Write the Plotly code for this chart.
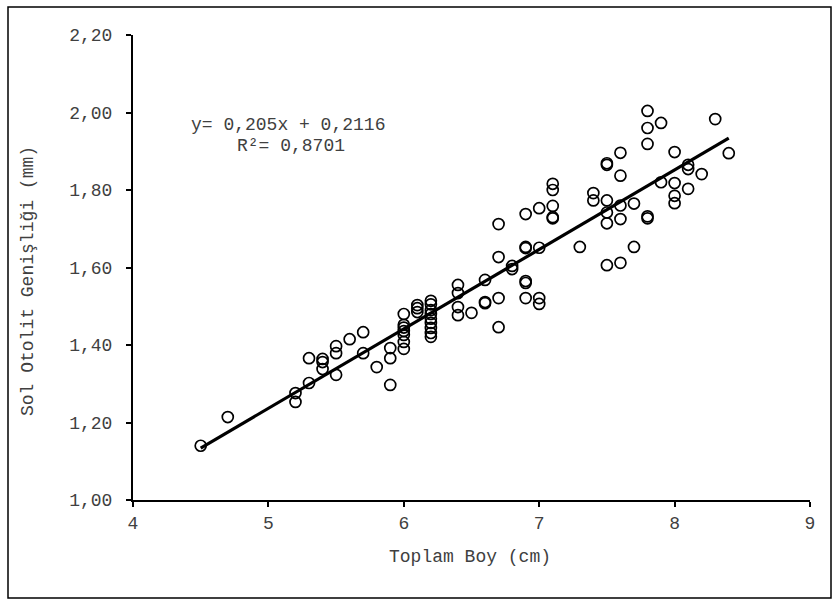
import plotly.graph_objects as go

# Total length (cm) and left otolith width (mm) per fish
toplam_boy = [
    4.5, 4.7,
    5.2, 5.2, 5.3, 5.3, 5.4, 5.4, 5.4, 5.5, 5.5, 5.5, 5.6, 5.7, 5.7, 5.8,
    5.9, 5.9, 5.9,
    6.0, 6.0, 6.0, 6.0, 6.0, 6.0, 6.0,
    6.1, 6.1, 6.1,
    6.2, 6.2, 6.2, 6.2, 6.2, 6.2, 6.2, 6.2, 6.2,
    6.4, 6.4, 6.4, 6.4, 6.5, 6.6, 6.6, 6.6,
    6.7, 6.7, 6.7, 6.7, 6.8, 6.8,
    6.9, 6.9, 6.9, 6.9, 6.9, 6.9,
    7.0, 7.0, 7.0, 7.0,
    7.1, 7.1, 7.1, 7.1, 7.1,
    7.3, 7.4, 7.4,
    7.5, 7.5, 7.5, 7.5, 7.5, 7.5,
    7.6, 7.6, 7.6, 7.6, 7.6,
    7.7, 7.7,
    7.8, 7.8, 7.8, 7.8, 7.8,
    7.9, 7.9,
    8.0, 8.0, 8.0, 8.0,
    8.1, 8.1, 8.1,
    8.2, 8.3, 8.4,
]
sol_otolit = [
    1.140, 1.214,
    1.276, 1.253, 1.366, 1.302, 1.364, 1.356, 1.338, 1.397, 1.379, 1.323, 1.415, 1.433, 1.379, 1.343,
    1.392, 1.366, 1.297,
    1.480, 1.452, 1.445, 1.436, 1.426, 1.408, 1.390,
    1.503, 1.495, 1.485,
    1.514, 1.505, 1.490, 1.480, 1.468, 1.457, 1.444, 1.431, 1.421,
    1.555, 1.534, 1.498, 1.477, 1.483, 1.568, 1.511, 1.508,
    1.712, 1.627, 1.521, 1.446, 1.604, 1.596,
    1.738, 1.653, 1.650, 1.565, 1.560, 1.521,
    1.753, 1.651, 1.521, 1.506,
    1.816, 1.800, 1.759, 1.730, 1.727,
    1.653, 1.792, 1.773,
    1.869, 1.865, 1.773, 1.742, 1.714, 1.606,
    1.896, 1.837, 1.760, 1.725, 1.612,
    1.765, 1.653,
    2.004, 1.960, 1.919, 1.732, 1.727,
    1.973, 1.820,
    1.898, 1.818, 1.785, 1.766,
    1.865, 1.854, 1.803,
    1.841, 1.983, 1.895,
]

# Linear trend: y = 0.205x + 0.2116, R² = 0.8701
egim = 0.205
kesisim = 0.2116
r_kare = 0.8701
trend_x = [min(toplam_boy), max(toplam_boy)]
trend_y = [egim * v + kesisim for v in trend_x]

FONT = "Liberation Mono"
TXT = "#404040"

W, H = 840, 608
L, R, T, B = 133, 30, 35, 108
pw, ph = W - L - R, H - T - B


def px(x):
    return (x - L) / pw


def py(y):
    return (H - B - y) / ph


def label(text, x, y, angle=0):
    return dict(text=text, xref="paper", yref="paper",
                x=px(x), y=py(y), xanchor="center", yanchor="middle",
                textangle=angle, showarrow=False,
                font=dict(family=FONT, size=18, color=TXT))


fig = go.Figure()
fig.add_trace(go.Scatter(
    x=trend_x, y=trend_y, mode="lines",
    line=dict(color="black", width=3.2),
    hoverinfo="skip", showlegend=False,
))
fig.add_trace(go.Scatter(
    x=toplam_boy, y=sol_otolit, mode="markers",
    marker=dict(symbol="circle-open", size=11, color="black",
                line=dict(color="black", width=1.7)),
    showlegend=False,
))

fig.update_layout(
    width=W, height=H,
    margin=dict(l=L, r=R, t=T, b=B),
    paper_bgcolor="white", plot_bgcolor="white",
    separators=",.",
    font=dict(family=FONT, size=18, color=TXT),
    xaxis=dict(
        range=[4, 9], dtick=1, tick0=4, showgrid=False, zeroline=False,
        showline=True, linecolor="black", linewidth=2,
        ticks="outside", ticklen=5, tickwidth=2, tickcolor="black",
        tickfont=dict(family=FONT, size=18, color=TXT),
    ),
    yaxis=dict(
        range=[1.0, 2.2], dtick=0.2, tick0=1.0, tickformat=".2f",
        showgrid=False, zeroline=False,
        showline=True, linecolor="black", linewidth=2,
        ticks="outside", ticklen=5, tickwidth=2, tickcolor="black",
        ticklabelstandoff=10,
        tickfont=dict(family=FONT, size=18, color=TXT),
    ),
    shapes=[dict(
        type="rect", xref="paper", yref="paper",
        x0=px(8), x1=px(831), y0=py(598), y1=py(7),
        line=dict(color="black", width=1.5), fillcolor="rgba(0,0,0,0)",
    )],
    annotations=[
        label("Toplam Boy (cm)", 470, 557),
        label("Sol Otolit Genişliği (mm)", 28, 281, angle=-90),
        label("y= 0,205x + 0,2116", 288, 125),
        label("R²= 0,8701", 291, 146),
    ],
)

fig.write_html("out.html")
